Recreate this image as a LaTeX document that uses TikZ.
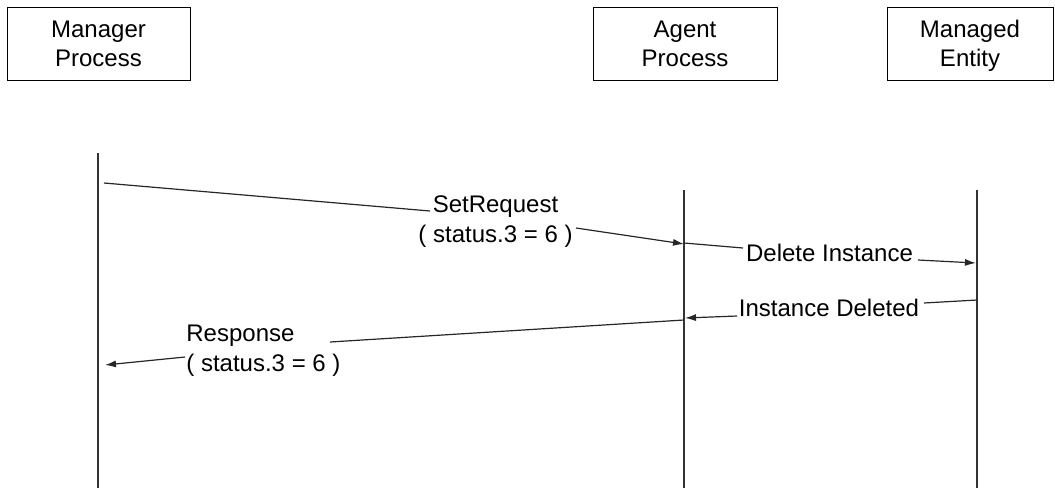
\documentclass[tikz,border=0pt]{standalone}
\usepackage{fontspec}
\setmainfont{Liberation Sans}
\usetikzlibrary{arrows.meta}

\begin{document}
\begin{tikzpicture}[
  x=0.5pt, y=-0.5pt,
  proc/.style={draw, line width=0.5pt, align=center, font=\fontsize{12}{14.5}\selectfont,
    minimum height=36.5pt, inner sep=0pt},
  lbl/.style={align=center, font=\fontsize{12}{15}\selectfont, inner sep=0pt},
  lifeline/.style={line width=0.6pt, black!80},
  msg/.style={line width=0.6pt, black!85},
  arrow/.style={msg, -{Latex[length=5.5pt, width=3.5pt]}}
]
\useasboundingbox (0,0) rectangle (1055,488);

% participants
\node[proc, minimum width=91.5pt] (manager) at (98.5,43.5) {Manager\\Process};
\node[proc, minimum width=92pt] (agent) at (685,43.5) {Agent\\Process};
\node[proc, minimum width=83pt] (entity) at (970,43.5) {Managed\\\smash{Entity}};

% lifelines
\coordinate (managertop) at (98,153);
\coordinate (managerbot) at (98,488);
\coordinate (agenttop) at (684,190);
\coordinate (agentbot) at (684,488);
\coordinate (entitytop) at (977,190);
\coordinate (entitybot) at (977,488);
\draw[lifeline] (managertop) -- (managerbot);
\draw[lifeline] (agenttop) -- (agentbot);
\draw[lifeline] (entitytop) -- (entitybot);

% message labels
\node[lbl] (setreq) at (495.5,222) {SetRequest\\( status.3 = 6 )};
\node[lbl] (delete) at (829.5,253) {Delete Instance};
\node[lbl] (deleted) at (829,308) {Instance Deleted};
\node[lbl, align=left, anchor=west] (response) at (186,351) {Response\\( status.3 = 6 )};

% message ends
\coordinate (set1a) at (104,183);
\coordinate (set1b) at (430,211);
\coordinate (set2a) at (576,228);
\coordinate (set2b) at (684,244);
\coordinate (del1a) at (684,243);
\coordinate (del1b) at (743,248);
\coordinate (del2a) at (918,260);
\coordinate (del2b) at (976,263);
\coordinate (ded1a) at (977,300);
\coordinate (ded1b) at (924,303);
\coordinate (ded2a) at (737,316);
\coordinate (ded2b) at (685,318);
\coordinate (rsp1a) at (684,320);
\coordinate (rsp1b) at (330,342);
\coordinate (rsp2a) at (185,357);
\coordinate (rsp2b) at (105,365);

\draw[msg] (set1a) -- (set1b);
\draw[arrow] (set2a) -- (set2b);
\draw[msg] (del1a) -- (del1b);
\draw[arrow] (del2a) -- (del2b);
\draw[msg] (ded1a) -- (ded1b);
\draw[arrow] (ded2a) -- (ded2b);
\draw[msg] (rsp1a) -- (rsp1b);
\draw[arrow] (rsp2a) -- (rsp2b);
\end{tikzpicture}
\end{document}
